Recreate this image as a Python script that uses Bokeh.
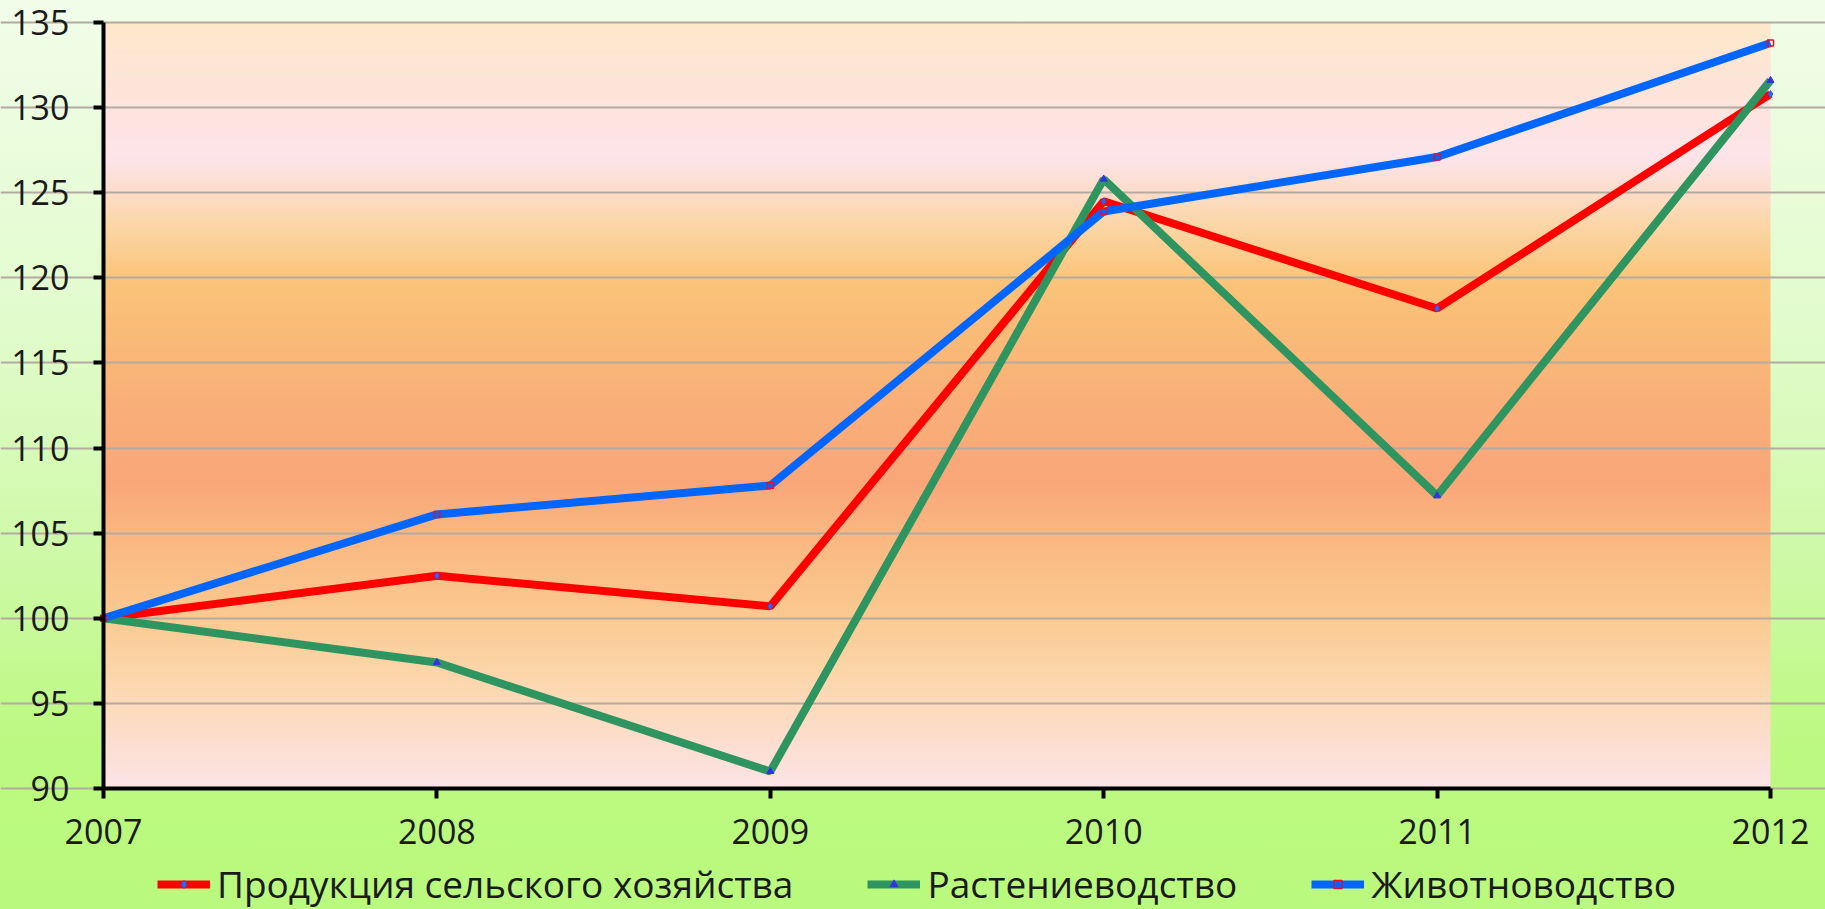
import numpy as np
from bokeh.plotting import figure
from bokeh.models import FixedTicker, Legend, LegendItem, Range1d
from bokeh.embed import file_html
from bokeh.resources import INLINE

# ---- data ----
years = [2007, 2008, 2009, 2010, 2011, 2012]
agri = [100, 102.5, 100.7, 124.5, 118.2, 130.8]
crops = [100, 97.4, 91.0, 125.8, 107.2, 131.6]
livestock = [100, 106.1, 107.8, 123.9, 127.1, 133.8]
series_labels = ["Продукция сельского хозяйства", "Растениеводство", "Животноводство"]
y_ticks = [90, 95, 100, 105, 110, 115, 120, 125, 130, 135]
x_tick_labels = {y: str(y) for y in years}

FONT = "Open Sans"
W, H = 1825, 909
# pixel layout of the plot area (styling)
LEFT, RIGHT, TOP, BOTTOM = 103, 1770, 22, 788
X0, X1 = years[0], years[-1]
Y0, Y1 = y_ticks[0], y_ticks[-1]
xu = (RIGHT - LEFT) / (X1 - X0)
yu = (BOTTOM - TOP) / (Y1 - Y0)
x_range = Range1d(X0 - LEFT / xu, X1 + (W - RIGHT) / xu)
y_range = Range1d(Y0 - (H - BOTTOM) / yu, Y1 + TOP / yu)

p = figure(width=W, height=H, x_range=x_range, y_range=y_range,
           output_backend="svg", toolbar_location=None,
           min_border_left=0, min_border_right=0,
           min_border_top=0, min_border_bottom=0)
p.border_fill_alpha = 0
p.background_fill_alpha = 0
p.outline_line_color = None
p.styles = {"background": "linear-gradient(to bottom, #f1fde9 0%, #e2fbcd 35%, #cdf9a6 62%, #bcf981 82%, #b9f97d 100%)"}

# ---- plot-area vertical gradient (style) ----
stops = [(90, (253, 228, 232)), (97, (252, 214, 168)), (100, (251, 202, 146)),
         (105, (250, 183, 128)), (108, (249, 167, 122)), (112, (249, 174, 120)),
         (117, (250, 188, 120)), (120, (251, 197, 122)), (123, (252, 214, 165)),
         (127, (253, 228, 234)), (131, (253, 228, 218)), (135, (253, 233, 204))]
N = 450
yy = np.linspace(Y0, Y1, N)
sv = [s[0] for s in stops]
img = np.empty((N, 2), dtype=np.uint32)
view = img.view(dtype=np.uint8).reshape((N, 2, 4))
for c in range(3):
    ch = np.interp(yy, sv, [s[1][c] for s in stops])
    view[:, :, c] = ch[:, None].astype(np.uint8)
view[:, :, 3] = 255
p.image_rgba(image=[img], x=X0, y=Y0, dw=X1 - X0, dh=Y1 - Y0, level="image")

# ---- grid & axes ----
p.xgrid.visible = False
p.ygrid.ticker = FixedTicker(ticks=y_ticks)
p.ygrid.bounds = (X0, X1)
p.ygrid.grid_line_color = "#b3aaa2"
p.ygrid.grid_line_width = 2
p.ygrid.level = "image"

for ax in (p.xaxis[0], p.yaxis[0]):
    ax.axis_line_color = "black"
    ax.axis_line_width = 4
    ax.major_tick_line_color = "black"
    ax.major_tick_line_width = 4
    ax.major_tick_out = 10
    ax.major_tick_in = 0
    ax.minor_tick_line_color = None
    ax.major_label_text_font = FONT
    ax.major_label_text_font_size = "34px"
    ax.major_label_text_color = "#1a1a1a"

p.yaxis.ticker = FixedTicker(ticks=y_ticks)
p.yaxis.bounds = (Y0, Y1)
p.yaxis.fixed_location = X0
p.yaxis.major_label_standoff = 24
p.xaxis.ticker = FixedTicker(ticks=years)
p.xaxis.bounds = (X0, X1)
p.xaxis.major_label_overrides = x_tick_labels
p.xaxis.major_label_standoff = 20
p.xaxis.fixed_location = Y0

# ---- series ----
r1 = p.line(years, agri, line_color="#ff0000", line_width=8)
m1 = p.scatter(years, agri, marker="diamond", size=7, fill_color="#1f6fff", line_color="#3050ff")
r2 = p.line(years, crops, line_color="#2e9460", line_width=8)
m2 = p.scatter(years, crops, marker="triangle", size=7, fill_color="#3333dd", line_color="#3333dd")
r3 = p.line(years, livestock, line_color="#0066ff", line_width=8)
m3 = p.scatter(years, livestock, marker="square", size=6, fill_color=None, line_color="#e01030", line_width=1.5)

legend = Legend(items=[LegendItem(label=series_labels[0], renderers=[r1, m1]),
                       LegendItem(label=series_labels[1], renderers=[r2, m2]),
                       LegendItem(label=series_labels[2], renderers=[r3, m3])],
                orientation="horizontal", location=(157, 0),
                label_text_font=FONT, label_text_font_size="37px",
                label_text_color="#1a1a1a",
                glyph_width=53, glyph_height=20, label_standoff=7,
                spacing=74, padding=0, margin=0,
                background_fill_alpha=0, border_line_alpha=0)
p.add_layout(legend, "center")

open("out.html", "w").write(file_html(p, INLINE))
